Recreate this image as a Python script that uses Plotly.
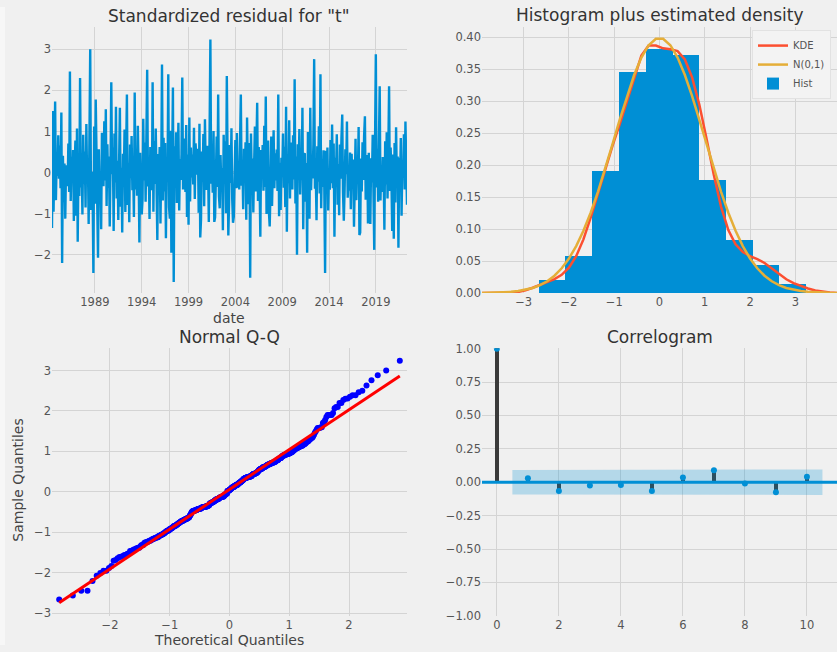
import numpy as np
import pandas as pd
import plotly.graph_objects as go
from plotly.subplots import make_subplots
from statistics import NormalDist

# ---------------- data ----------------
start_month = "1984-06-01"
resid_rows = [
    [-1.35, 1.50, -0.95, 0.12, 1.73, -0.67, 0.35, -0.08, 0.91, -0.15, 0.66, -0.38],
    [1.46, -2.20, 0.41, -0.72, 0.22, -1.12, 0.18, 0.05, -0.33, 0.71, -0.47, 2.46],
    [-0.69, 0.38, -0.21, 0.55, -1.18, 0.12, 0.78, -1.05, 1.07, -1.68, 0.31, -0.57],
    [2.30, -0.36, 0.15, -1.02, 0.92, -0.27, 0.51, -0.85, 1.18, -0.12, 0.36, -1.25],
    [0.74, 3.00, -0.91, 0.02, -0.35, -2.44, 1.12, -0.76, 1.78, 0.21, -0.13, -2.07],
    [0.57, -0.45, 0.03, -1.38, 0.97, 0.08, -0.33, 1.25, -0.19, 1.54, -0.81, 0.69],
    [-0.37, 0.39, -1.31, 0.18, 2.20, -0.04, 0.61, -1.42, 0.95, -0.24, 1.60, -0.63],
    [0.29, -1.15, 0.81, 1.58, -0.83, 0.12, -1.46, 0.46, -0.11, 1.05, -0.96, 0.23],
    [1.90, -0.79, 0.24, -1.21, 0.68, -0.14, 0.89, -0.43, 0.05, -1.08, 1.95, -0.41],
    [0.57, -0.56, 1.14, 0.02, -1.70, 0.48, -0.36, -1.02, -0.65, 1.31, -0.19, 0.73],
    [-0.71, 0.94, 2.50, -0.34, 0.11, -1.13, 0.62, 0.07, -0.43, 2.20, -0.95, 0.77],
    [-0.28, 1.07, -0.39, -1.64, 0.45, -0.09, 0.62, -1.24, 0.18, 2.63, -0.68, 0.85],
    [-0.46, 0.72, -1.60, 0.35, -0.22, 2.39, -0.84, -1.12, 1.02, -1.95, 0.26, 2.07],
    [-2.66, 0.64, -0.07, 0.98, -0.74, 0.14, 1.21, -0.92, 0.33, -0.18, 0.45, 2.31],
    [-0.41, 0.09, 0.83, -0.47, 1.16, -1.08, 0.44, -1.27, 1.34, -0.70, 0.61, -0.12],
    [0.44, -0.29, 1.09, -0.64, 0.71, 0.33, -0.05, 0.58, -0.98, 1.19, -1.58, -1.14],
    [0.51, -0.23, 0.94, -0.82, 1.30, 0.04, -0.42, 0.65, 0.12, -1.20, 0.37, 3.24],
    [-0.27, 0.38, -0.49, 1.01, -1.20, -1.09, -0.13, 0.88, -0.35, 1.90, -0.58, -0.87],
    [0.43, -0.36, 0.11, -1.40, 0.92, -0.18, 0.76, -0.99, 2.35, -0.04, -1.53, -0.73],
    [0.67, -0.25, 1.08, -0.66, -1.22, -1.07, 0.21, 0.79, -0.38, 0.96, -0.37, 0.15],
    [-0.41, 0.83, 1.90, -0.32, 0.27, -0.89, 0.58, -0.16, 0.74, -1.15, 1.34, 0.06],
    [-0.77, 0.72, -2.56, 0.95, -0.11, 0.34, -0.97, 0.18, 1.12, -0.46, 0.37, 1.70],
    [-0.69, 0.62, -0.21, -1.56, 0.55, -0.07, 0.67, -0.44, 1.14, -0.35, 1.85, -1.01],
    [0.32, 0.78, -0.95, -1.31, -0.47, 0.88, -0.81, 0.16, 1.03, -0.38, 0.47, -0.19],
    [0.56, -0.45, 1.90, -1.06, 0.24, -0.91, 0.36, -0.11, 0.95, -0.37, 0.63, -0.84],
    [1.60, -1.44, 0.38, -0.26, 1.27, -0.63, 0.73, 0.09, -0.41, 0.91, -0.17, 2.27],
    [-0.75, 0.39, -2.00, 0.69, -0.13, 1.06, -0.53, 0.29, -0.05, 1.58, -1.38, 0.44],
    [0.47, -0.71, 0.23, -1.95, 0.99, -0.28, -1.12, 1.58, -0.43, 0.35, -0.14, 0.69],
    [2.76, -0.39, 0.02, -1.16, 0.64, -0.22, 1.13, -0.51, 2.39, -0.87, 0.28, -0.35],
    [0.54, -0.37, -2.44, 0.53, -0.19, 0.61, -0.92, 0.06, -0.42, 0.79, -0.26, 1.17],
    [-0.38, 0.71, -1.56, 0.36, -0.11, 0.93, -0.78, 0.21, -1.04, 0.68, -0.15, 0.84],
    [1.41, -0.49, -1.17, -0.42, 0.57, -0.04, 1.24, -0.61, 0.18, -0.44, 0.49, -0.89],
    [0.46, -0.27, 0.32, -1.32, 0.19, 0.82, -0.67, 0.37, -0.12, 1.11, -1.52, -1.46],
    [0.34, -0.46, 0.74, -0.18, 0.89, 1.37, -0.66, 0.11, 0.43, -1.24, 0.48, -0.84],
    [-1.25, 0.35, -0.24, 0.92, -0.07, -1.88, 0.68, 2.88, -0.36, 0.58, -0.71, 0.25],
    [2.10, -0.68, 0.16, -0.47, 0.38, 0.03, -1.39, 0.76, -0.29, 0.98, -0.63, 0.41],
    [2.10, -0.45, 0.61, -0.18, -1.42, 0.44, -1.61, 0.72, -0.73, 1.10, -0.24, 0.39],
    [-1.83, 0.36, -0.37, 0.84, -1.05, 0.27, -0.12, 0.93, -0.41, 1.24, 0.15, -0.78],
]
year_ticks = [1989, 1994, 1999, 2004, 2009, 2014, 2019]

hist_edges = [-2.67, -2.08, -1.49, -0.90, -0.30, 0.29, 0.88, 1.47, 2.06, 2.65, 3.24]
hist_heights = [0.021, 0.058, 0.190, 0.345, 0.381, 0.372, 0.177, 0.083, 0.043, 0.014]

acf_lags = [0, 1, 2, 3, 4, 5, 6, 7, 8, 9, 10]
acf_values = [1.0, 0.03, -0.065, -0.025, -0.02, -0.065, 0.035, 0.09, -0.01, -0.075, 0.04]
acf_conf = [0.092, 0.092, 0.093, 0.093, 0.093, 0.093, 0.094, 0.094, 0.095, 0.095]

# ---------------- derived ----------------
resid = np.array([v for row in resid_rows for v in row])
n = len(resid)
dates = pd.date_range(start_month, periods=n, freq="MS")

xlim = (-1.96 * 2, 1.96 * 2)
xk = np.linspace(xlim[0], xlim[1], 50)
bw = np.std(resid, ddof=1) * n ** (-0.2)
kde = np.exp(-0.5 * ((xk[:, None] - resid[None, :]) / bw) ** 2).sum(1) / (n * bw * np.sqrt(2 * np.pi))
npdf = np.exp(-0.5 * xk ** 2) / np.sqrt(2 * np.pi)

edges = np.array(hist_edges)
centers = (edges[:-1] + edges[1:]) / 2
widths = np.diff(edges)

nd = NormalDist()
theo = np.array([nd.inv_cdf(i / (n + 1)) for i in range(1, n + 1)])
samp = np.sort(resid)
m, b = np.std(samp), np.mean(samp)
qx = np.array([theo.min(), theo.max()])

band_x = [float(l) for l in acf_lags[1:]]
band_x[0] -= 0.5
band_x[-1] += 0.5

# ---------------- figure ----------------
BLUE = "#008fd5"
BG = "#f0f0f0"
GRID = "#d4d4d4"
W, H = 837, 652


def X(px):
    return px / W


def Y(py):
    # target screen y (px from top) -> paper fraction (photo maps page y to 8 + 0.975*y)
    return 1 - ((py - 8) / 0.975) / H


fig = make_subplots(rows=2, cols=2)

fig.add_trace(go.Scatter(x=dates, y=resid, mode="lines", line=dict(color=BLUE, width=2.4),
                         showlegend=False), row=1, col=1)

fig.add_trace(go.Bar(x=centers, y=hist_heights, width=widths, marker=dict(color=BLUE, line=dict(width=0)),
                     name="Hist", legendrank=3), row=1, col=2)
fig.add_trace(go.Scatter(x=xk, y=kde, mode="lines", line=dict(color="#fc4f30", width=2.5),
                         name="KDE", legendrank=1), row=1, col=2)
fig.add_trace(go.Scatter(x=xk, y=npdf, mode="lines", line=dict(color="#e5ae38", width=2.5),
                         name="N(0,1)", legendrank=2), row=1, col=2)

fig.add_trace(go.Scatter(x=theo, y=samp, mode="markers",
                         marker=dict(color="#0000ff", size=6, line=dict(width=0)),
                         showlegend=False), row=2, col=1)
fig.add_trace(go.Scatter(x=qx, y=m * qx + b, mode="lines", line=dict(color="#ff0000", width=3),
                         showlegend=False), row=2, col=1)

fig.add_trace(go.Scatter(x=band_x + band_x[::-1], y=acf_conf + [-c for c in acf_conf[::-1]],
                         fill="toself", fillcolor="rgba(0,143,213,0.25)", line=dict(width=0),
                         mode="lines", showlegend=False, hoverinfo="skip"), row=2, col=2)
fig.add_trace(go.Bar(x=acf_lags, y=acf_values, width=0.12, marker=dict(color="#3a3a3a", line=dict(width=0)),
                     showlegend=False), row=2, col=2)
fig.add_trace(go.Scatter(x=acf_lags, y=acf_values, mode="markers",
                         marker=dict(color=BLUE, size=6), showlegend=False), row=2, col=2)

xl = [X(52), X(407)]
xr = [X(482), 1.0]
yt = [Y(293), Y(28)]
yb = [Y(615), Y(348)]

axis_common = dict(showgrid=True, gridcolor=GRID, gridwidth=1, zeroline=False, showline=False,
                   ticks="", tickfont=dict(family="DejaVu Sans", size=11.5, color="#555555"),
                   fixedrange=True)

fig.update_layout(
    xaxis=dict(domain=xl, type="date", range=[dates[0], dates[-1]],
               tickvals=[pd.Timestamp(f"{y}-01-01") for y in year_ticks],
               ticktext=[str(y) for y in year_ticks], **axis_common),
    yaxis=dict(domain=yt, range=[-2.93, 3.54], tickvals=[-2, -1, 0, 1, 2, 3], **axis_common),
    xaxis2=dict(domain=xr, range=list(xlim), tickvals=[-3, -2, -1, 0, 1, 2, 3], **axis_common),
    yaxis2=dict(domain=yt, range=[0, 0.416], tickvals=[0, 0.05, 0.10, 0.15, 0.20, 0.25, 0.30, 0.35, 0.40],
                tickformat=".2f", **axis_common),
    xaxis3=dict(domain=xl, range=[-2.97, 2.97], tickvals=[-2, -1, 0, 1, 2], **axis_common),
    yaxis3=dict(domain=yb, range=[-3.07, 3.55], tickvals=[-3, -2, -1, 0, 1, 2, 3], **axis_common),
    xaxis4=dict(domain=xr, range=[-0.48, 10.97], tickvals=[0, 2, 4, 6, 8, 10], **axis_common),
    yaxis4=dict(domain=yb, range=[-1.003, 1.003],
                tickvals=[-1, -0.75, -0.5, -0.25, 0, 0.25, 0.5, 0.75, 1.0], tickformat=".2f", **axis_common),
)

fig.update_layout(
    width=W, height=H, margin=dict(l=0, r=0, t=0, b=0),
    paper_bgcolor=BG, plot_bgcolor=BG,
    font=dict(family="DejaVu Sans", color="#333333"),
    bargap=0,
    legend=dict(x=X(752), y=Y(31), xanchor="left", yanchor="top",
                bgcolor="#f3f3f3", bordercolor="#e2e2e2", borderwidth=1,
                font=dict(size=10, color="#555555"), tracegroupgap=0, itemwidth=30),
    showlegend=True,
)

fig.add_shape(type="line", xref="x domain", yref="y", x0=0, x1=1, y0=0, y1=0,
              line=dict(color="rgba(60,60,60,0.45)", width=2), layer="below")
fig.add_shape(type="line", xref="x4 domain", yref="y4", x0=0, x1=1, y0=0, y1=0,
              line=dict(color=BLUE, width=3), layer="above")
fig.add_shape(type="rect", xref="paper", yref="paper", x0=0, x1=X(5), y0=0, y1=1,
              fillcolor="#f7f7f7", line=dict(width=0), layer="below")


def ann(text, px, py, size, angle=0, color="#333333"):
    fig.add_annotation(text=text, x=X(px), y=Y(py), xref="paper", yref="paper",
                       showarrow=False, xanchor="center", yanchor="middle", textangle=angle,
                       font=dict(family="DejaVu Sans", size=size, color=color))


ann('Standardized residual for "t"', 229.5, 17, 17)
ann("Histogram plus estimated density", 659.5, 16, 17)
ann("Normal Q-Q", 229.5, 337, 17)
ann("Correlogram", 659.5, 337, 17)
ann("date", 229.5, 318, 14, color="#444444")
ann("Theoretical Quantiles", 229.5, 639, 14, color="#444444")
ann("Sample Quantiles", 18, 480, 14, angle=-90, color="#444444")

fig.write_html("out.html", config={"displayModeBar": False},
               post_script="document.body.style.margin='0';document.body.style.overflow='hidden';")
